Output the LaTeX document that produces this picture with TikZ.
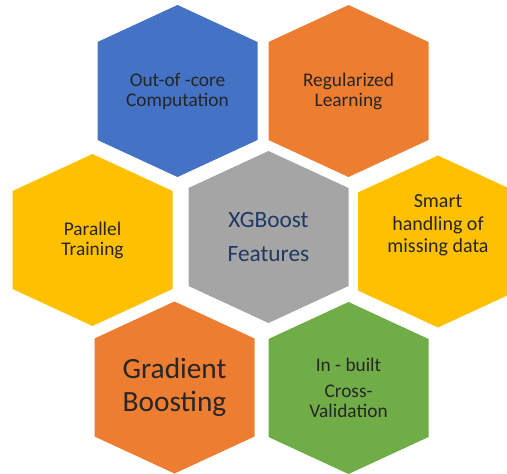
\documentclass[tikz,border=0pt]{standalone}
\usepackage{fontspec}
\setmainfont{Carlito}

\definecolor{accblue}{HTML}{4472C4}
\definecolor{accorange}{HTML}{ED7D31}
\definecolor{accgray}{HTML}{A5A5A5}
\definecolor{accgold}{HTML}{FFC000}
\definecolor{accgreen}{HTML}{70AD47}
\definecolor{titleblue}{HTML}{203864}

\tikzset{
	cell text/.style={align=center, inner sep=0pt, text=black!85,
		font=\fontsize{14.5}{15}\selectfont},
}

% one hexagon cell: [node options]{name}{x,y}{colour}{text}
\newcommand{\hexcell}[5][]{%
	\fill[#4] (#3) ++(0,-86) -- ++(80,37) -- ++(0,98) -- ++(-80,37)
		-- ++(-80,-37) -- ++(0,-98) -- cycle;
	\node[cell text, #1] (#2) at (#3) {#5};
}

\begin{document}
\begin{tikzpicture}[x=0.75pt, y=-0.75pt]
	\clip (0,0) rectangle (507,474);

	\hexcell{OutOfCore}{177.5,91}{accblue}{Out-of -core\\Computation}
	\hexcell{Regularized}{348.5,91}{accorange}{Regularized\\Learning}
	\hexcell{Parallel}{92.5,240}{accgold}{Parallel\\Training}
	\hexcell[text=titleblue, font=\fontsize{17.5}{25}\selectfont]{XGBoost}{268.5,237}{accgray}{XGBoost\\Features}
	\hexcell[yshift=12pt, font=\fontsize{15}{17}\selectfont]{Missing}{438,241.5}{accgold}{Smart\\handling of\\missing data}
	\hexcell[font=\fontsize{22}{25}\selectfont]{Gradient}{174.5,387.5}{accorange}{Gradient\\Boosting}
	\hexcell{CrossVal}{348.5,388}{accgreen}{In - built\\[5pt]Cross-\\Validation}
\end{tikzpicture}
\end{document}
